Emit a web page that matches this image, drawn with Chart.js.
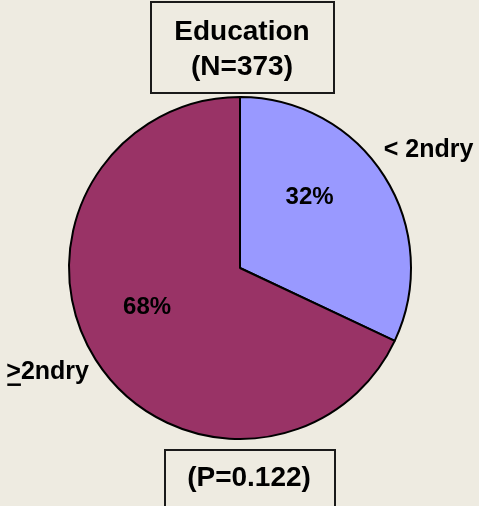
<!DOCTYPE html>
<html>
<head>
<meta charset="utf-8">
<script src="https://cdn.jsdelivr.net/npm/chart.js@4"></script>
<style>
  html, body { margin: 0; padding: 0; background: #eeebe1; }
  canvas { display: block; }
</style>
</head>
<body>
<canvas id="eduChart" width="479" height="506"></canvas>
<script>
// data
const categories = ['< 2ndry', '>2ndry'];
const percentages = [32, 68];
const titleLines = ['Education', '(N=373)'];
const footText = '(P=0.122)';

const sliceColors = ['#9999ff', '#993366'];

// labels, boxes drawn on top of the pie
const annotations = {
    id: 'annotations',
    afterDraw(chart) {
        const ctx = chart.ctx;
        const arcs = chart.getDatasetMeta(0).data;
        const cx = arcs[0].x, cy = arcs[0].y, r = arcs[0].outerRadius;
        const polar = (deg, f) => {
            const a = deg * Math.PI / 180;
            return [cx + Math.sin(a) * r * f, cy - Math.cos(a) * r * f];
        };

        ctx.save();
        ctx.fillStyle = '#000';
        ctx.strokeStyle = '#1a1a1a';
        ctx.textAlign = 'center';
        ctx.textBaseline = 'middle';

        // title box
        ctx.lineWidth = 2;
        ctx.strokeRect(151, 2, 183, 91);
        ctx.font = 'bold 28px "Liberation Sans", Arial, sans-serif';
        ctx.fillText(titleLines[0], 242, 32);
        ctx.fillText(titleLines[1], 242, 67);

        // footer box
        ctx.strokeRect(165, 450, 170, 70);
        ctx.fillText(footText, 249, 478);

        // percent labels inside slices
        ctx.font = 'bold 24px "Liberation Sans", Arial, sans-serif';
        let p = polar(44.6, 0.58);
        ctx.fillText(percentages[0] + '%', p[0], p[1]);
        p = polar(247, 0.59);
        ctx.fillText(percentages[1] + '%', p[0], p[1]);

        // category labels outside
        ctx.font = 'bold 25px "Liberation Sans", Arial, sans-serif';
        p = polar(58, 1.3);
        ctx.fillText(categories[0], p[0], p[1]);
        p = polar(241.5, 1.28);
        ctx.fillText(categories[1], p[0], p[1]);
        // underline under ">" (reads as >=)
        const w = ctx.measureText(categories[1]).width;
        const gw = ctx.measureText('>').width;
        const x0 = p[0] - w / 2;
        ctx.fillRect(x0 + 1, p[1] + 11, gw - 1, 2.5);

        ctx.restore();
    }
};

const ctx = document.getElementById('eduChart').getContext('2d');
new Chart(ctx, {
    type: 'pie',
    data: {
        labels: categories,
        datasets: [{
            data: percentages,
            backgroundColor: sliceColors,
            borderColor: '#000',
            borderWidth: 2
        }]
    },
    options: {
        responsive: false,
        animation: false,
        layout: {
            padding: { left: 68, right: 67, top: 95, bottom: 65 }
        },
        plugins: {
            legend: { display: false },
            tooltip: { enabled: false }
        }
    },
    plugins: [annotations]
});
</script>
</body>
</html>
